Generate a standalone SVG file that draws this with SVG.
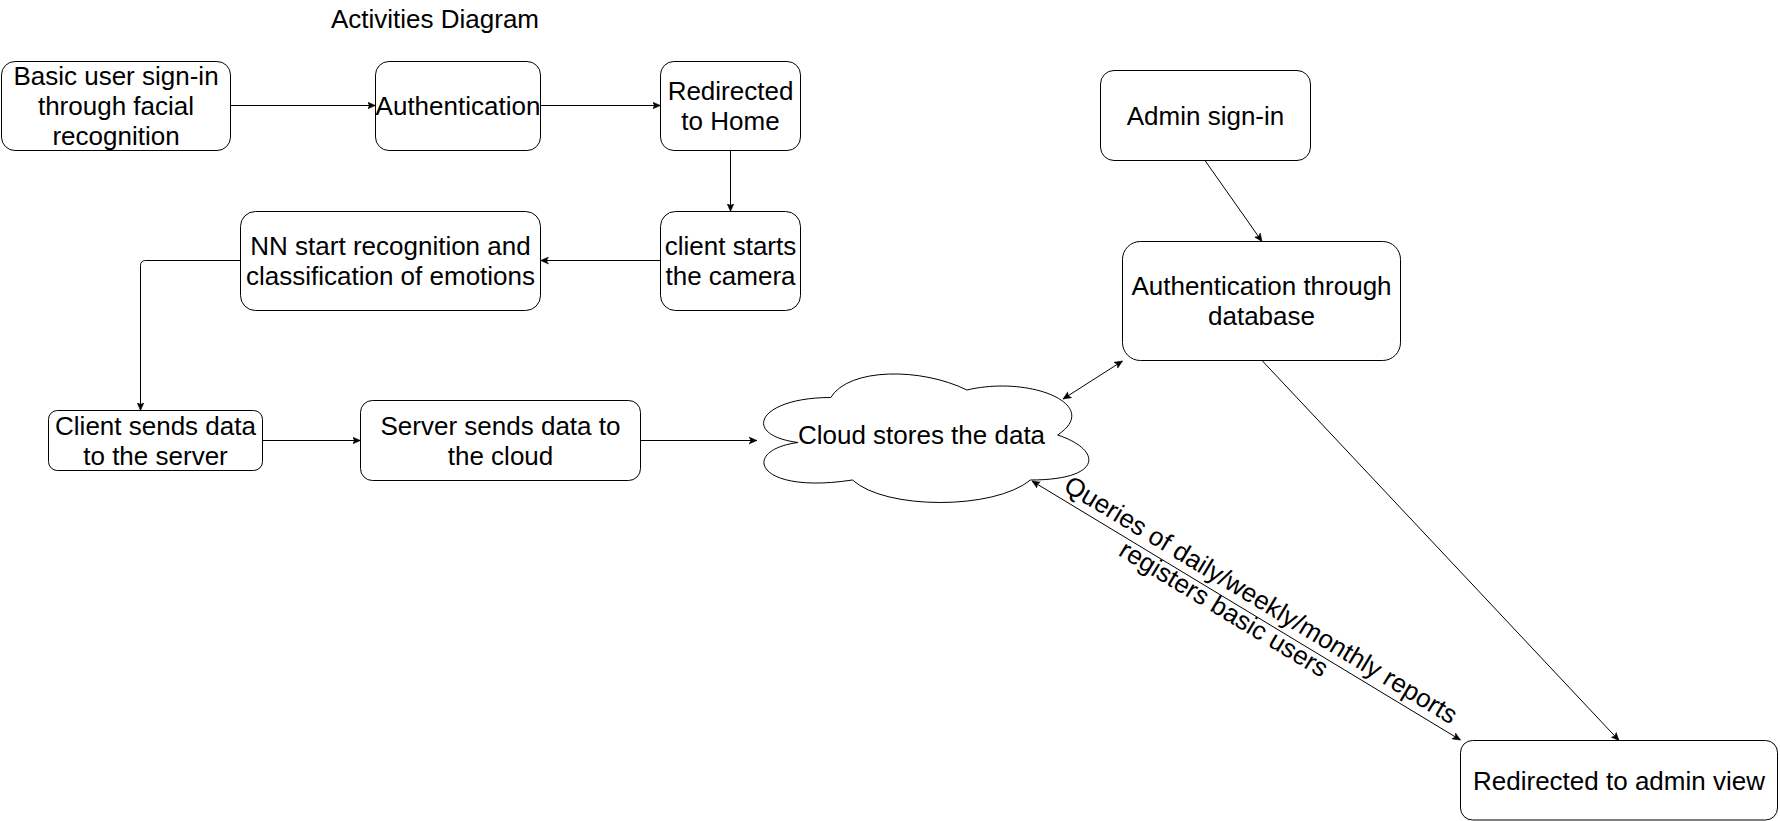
<svg xmlns="http://www.w3.org/2000/svg" width="1780" height="821" viewBox="0 0 1780 821">
<defs>
<marker id="arr" viewBox="0 0 8 8" refX="8" refY="4" markerWidth="8" markerHeight="8" markerUnits="userSpaceOnUse" orient="auto-start-reverse">
<path d="M0,0.5 L8,4 L0,7.5 L2,4 Z" fill="#000" stroke="#000" stroke-width="0.5"/>
</marker>
</defs>
<style>
.box{fill:#fff;stroke:#000;stroke-width:1}
.t{font-family:"Liberation Sans",Arial,Helvetica,sans-serif;font-size:26px;fill:#000;text-anchor:middle}
.c{fill:none;stroke:#000;stroke-width:1}
.a{marker-end:url(#arr)}
.b{marker-start:url(#arr);marker-end:url(#arr)}
</style>
<rect width="1780" height="821" fill="#fff"/>
<text class="t" x="435" y="28">Activities Diagram</text>

<g id="n1"><rect class="box" x="1.5" y="61.5" width="229" height="89" rx="13.4"/>
<text class="t" x="116" y="84.5">Basic user sign-in</text><text class="t" x="116" y="114.5">through facial</text><text class="t" x="116" y="144.5">recognition</text></g>

<g id="n2"><rect class="box" x="375.5" y="61.5" width="165" height="89" rx="13.4"/>
<text class="t" x="458" y="114.5">Authentication</text></g>

<g id="n3"><rect class="box" x="660.5" y="61.5" width="140" height="89" rx="13.4"/>
<text class="t" x="730.5" y="99.5">Redirected</text><text class="t" x="730.5" y="129.5">to Home</text></g>

<g id="n4"><rect class="box" x="660.5" y="211.5" width="140" height="99" rx="14.9"/>
<text class="t" x="730.5" y="254.5">client starts</text><text class="t" x="730.5" y="284.5">the camera</text></g>

<g id="n5"><rect class="box" x="240.5" y="211.5" width="300" height="99" rx="14.9"/>
<text class="t" x="390.5" y="254.5">NN start recognition and</text><text class="t" x="390.5" y="284.5">classification of emotions</text></g>

<g id="n6"><rect class="box" x="48.5" y="410.5" width="214" height="60" rx="8.9"/>
<text class="t" x="155.5" y="434.5">Client sends data</text><text class="t" x="155.5" y="464.5">to the server</text></g>

<g id="n7"><rect class="box" x="360.5" y="400.5" width="280" height="80" rx="11.9"/>
<text class="t" x="500.5" y="434.5">Server sends data to</text><text class="t" x="500.5" y="464.5">the cloud</text></g>

<g id="cloud">
<path class="box" d="M830.75,397.5 C758.15,397.5 740,435 798.08,442.5 C740,450 754.52,495 852.53,480 C885.2,510 994.1,510 1030.4,480 C1103,480 1103,450 1057.63,435 C1103,405 1030.4,375 966.88,390 C921.5,367.5 848.9,367.5 830.75,397.5 Z"/>
<text class="t" x="921.5" y="444">Cloud stores the data</text></g>

<g id="n8"><rect class="box" x="1100.5" y="70.5" width="210" height="90" rx="13.5"/>
<text class="t" x="1205.5" y="124.5">Admin sign-in</text></g>

<g id="n9"><rect class="box" x="1122.5" y="241.5" width="278" height="119" rx="17.9"/>
<text class="t" x="1261.5" y="295">Authentication through</text><text class="t" x="1261.5" y="325">database</text></g>

<g id="n10"><rect class="box" x="1460.5" y="740.5" width="317" height="79.5" rx="12"/>
<text class="t" x="1619" y="789.5">Redirected to admin view</text></g>

<g id="connectors">
<path class="c a" d="M230.5,105.5 H375.5"/>
<path class="c a" d="M540.5,105.5 H660.5"/>
<path class="c a" d="M730.5,150.5 V211.5"/>
<path class="c a" d="M660.5,260.5 H540.5"/>
<path class="c a" d="M240.5,260.5 H145.5 Q140.5,260.5 140.5,265.5 V410.5"/>
<path class="c a" d="M262.5,440.5 H360.5"/>
<path class="c a" d="M640.5,440.5 H757"/>
<path class="c a" d="M1205,160.5 L1262,241.5"/>
<path class="c b" d="M1063,399 L1122.5,361"/>
<path class="c a" d="M1262,360.5 L1619,740.5"/>
<path class="c b" d="M1032,481 L1460.5,740"/>
<g transform="translate(1246.25,610.5) rotate(31.15)">
<text class="t" x="7" y="-8">Queries of daily/weekly/monthly reports</text>
<text class="t" x="-20" y="19">registers basic users</text>
</g>
</g>
</svg>
